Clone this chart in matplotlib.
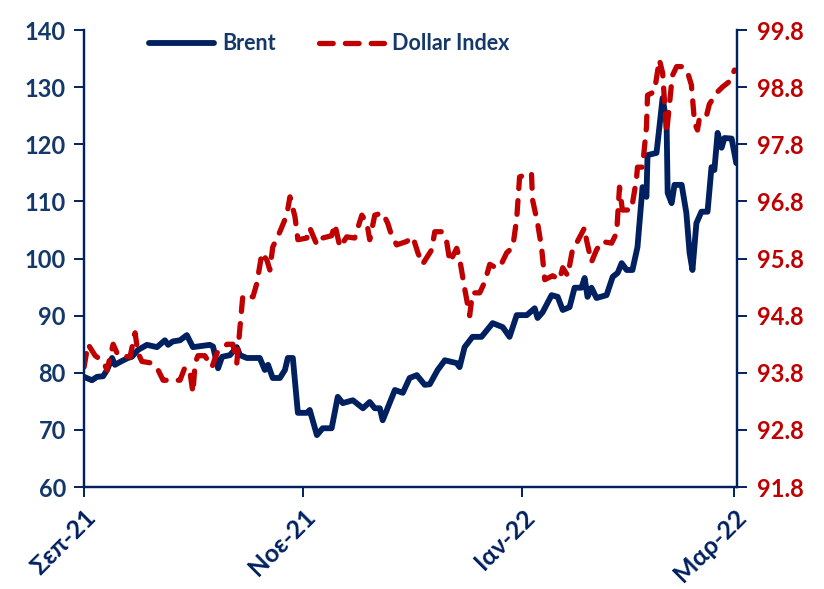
import matplotlib.pyplot as plt

# days since 1 Sep 2021
brent_day = [0, 2.2, 3.6, 5.3, 6.4, 7.8, 8.6, 10, 12.2, 13.3, 15, 17.5, 20.3, 22.5, 23.4, 24.7,
             26.7, 28.6, 30.3, 35, 35.9, 37.3, 38.4, 40.6, 42.5, 43.4, 45.3, 48.9, 50.3, 51.2,
             52.5, 54.5, 55.9, 56.7, 58.1, 59.5, 62, 62.8, 64.8, 66.4, 68.9, 70.6, 72, 74.8,
             77.6, 79.5, 80.9, 82.3, 83.1, 86.5, 88.7, 90.6, 92.6, 94.8, 96.2, 98.4, 100.4,
             103.7, 104.5, 105.9, 108.1, 110.6, 113.7, 116.5, 118.4, 120.4, 123.2, 125.4,
             126.2, 127.6, 130.1, 131.8, 133.2, 135.1, 136.5, 138.4, 139.3, 140.1, 141.2,
             142.6, 145.4, 147.1, 148.5, 149.6, 151, 152.6, 154, 155.4, 156.5, 156.8, 159.3,
             161, 162.1, 162.4, 163.5, 164.3, 166.3, 167.6, 168.5, 169.3, 170.4, 171.8,
             173.5, 174.6, 175.4, 176.3, 177.4, 178.2, 180.2, 181.5]
brent = [79.3, 78.7, 79.3, 79.4, 80.5, 82.6, 81.4, 81.9, 82.6, 82.8, 84.0, 84.9, 84.5, 85.7,
         84.9, 85.5, 85.7, 86.6, 84.5, 84.9, 84.6, 80.8, 82.8, 83.1, 84.5, 83.1, 82.6, 82.6,
         80.5, 81.4, 79.1, 79.1, 80.5, 82.6, 82.6, 73.0, 73.0, 73.5, 69.1, 70.3, 70.3, 75.8,
         74.7, 75.2, 73.8, 74.9, 73.8, 73.8, 71.7, 77.0, 76.5, 79.1, 79.6, 77.9, 78.0, 80.5,
         82.2, 81.7, 81.0, 84.5, 86.3, 86.3, 88.7, 88.0, 86.3, 90.1, 90.1, 91.3, 89.6, 90.6,
         93.6, 93.3, 91.0, 91.5, 94.9, 94.9, 96.6, 93.3, 94.9, 93.1, 93.6, 96.8, 97.5, 99.2,
         98.0, 98.0, 102.0, 112.5, 110.8, 118.1, 118.5, 128.1, 123.7, 111.5, 109.7, 112.9,
         112.9, 108.0, 101.0, 98.0, 106.2, 108.2, 108.2, 116.0, 115.5, 122.0, 119.4, 121.1,
         121.0, 116.7]

dxy_day = [0, 1.1, 3.1, 5.3, 6.4, 8.1, 9.5, 12.8, 14.2, 15, 16.1, 18.9, 20.6, 22, 23.9, 26.7,
           28.1, 29.5, 30.3, 30.9, 31.7, 33.6, 35.6, 37, 39.8, 41.4, 42.5, 43.4, 43.9, 44.2,
           47, 48.1, 49.5, 50.9, 51.7, 52.5, 54.5, 56.4, 57.3, 58.7, 59.5, 62, 62.8, 64.8,
           66.4, 68.9, 69.8, 71.2, 73.1, 75.3, 77.3, 78.7, 79.5, 80.9, 83.1, 84.5, 85.6, 87,
           89.8, 91.5, 92.9, 94.2, 96.7, 97.6, 99.5, 100.9, 101.8, 103.7, 104.5, 105.9, 107.3,
           108.1, 110.1, 111.5, 112.9, 114.3, 115.7, 117.6, 119.3, 120.4, 121.2, 124.5, 124.8,
           126.2, 127.3, 128.2, 130.4, 132.3, 133.2, 134.6, 135.9, 137.3, 139.3, 139.8, 141.2,
           142.6, 144, 146.8, 148.2, 149, 149.8, 152.3, 153.7, 154, 155.4, 156.5, 156.8,
           158.7, 160.1, 161, 162.1, 162.9, 163.7, 164.9, 166.5, 167.9, 169, 169.9, 170.7,
           171.3, 173.2, 174, 176, 177.6, 179.6, 181]
dxy = [93.9, 94.3, 94.1, 94.0, 93.85, 94.3, 94.1, 94.08, 94.5, 94.15, 94.0, 93.97, 93.85,
       93.67, 93.67, 93.67, 93.9, 93.8, 93.45, 93.97, 94.1, 94.1, 93.9, 94.15, 94.3, 94.3,
       93.97, 94.6, 94.95, 95.16, 95.13, 95.37, 95.9, 95.77, 95.6, 96.0, 96.27, 96.56, 96.88,
       96.53, 96.13, 96.16, 96.34, 96.04, 96.16, 96.2, 96.4, 96.0, 96.18, 96.16, 96.56, 96.42,
       96.13, 96.56, 96.6, 96.42, 96.2, 96.04, 96.1, 96.18, 95.9, 95.7, 95.95, 96.27, 96.27,
       96.1, 95.74, 95.98, 95.8, 95.28, 94.8, 95.2, 95.2, 95.39, 95.7, 95.65, 95.65, 95.9,
       96.0, 96.5, 97.23, 97.3, 96.83, 96.42, 96.0, 95.43, 95.5, 95.43, 95.64, 95.5, 95.95,
       96.1, 96.34, 96.13, 95.74, 95.95, 96.1, 96.07, 96.25, 97.05, 96.65, 96.65, 97.18,
       97.4, 97.4, 98.1, 98.66, 98.72, 99.28, 99.05, 98.0, 98.5, 99.0, 99.16, 99.16, 99.07,
       98.84, 98.17, 98.05, 98.28, 98.3, 98.5, 98.7, 98.8, 98.9, 99.1]

tick_days = [0, 61, 122, 181]
tick_labels = ["Σεπ-21", "Νοε-21", "Ιαν-22", "Μαρ-22"]

NAVY = "#002060"
LABEL_NAVY = "#14386A"
RED = "#C00000"
FONT = ["Lato", "DejaVu Sans"]

plt.rcParams["font.family"] = FONT
plt.rcParams["font.weight"] = "bold"

fig = plt.figure(figsize=(8.24, 5.89), dpi=100)
ax = fig.add_axes([0.102, 0.173, 0.792, 0.776])
ax2 = ax.twinx()

ax.plot(brent_day, brent, color=NAVY, linewidth=4.2, solid_joinstyle="round",
        solid_capstyle="round", label="Brent", zorder=3)
ax2.plot(dxy_day, dxy, color=RED, linewidth=3.8, dashes=(2.6, 2.3),
         dash_capstyle="round", label="Dollar Index")

ax.set_xlim(0, 181.6)
ax.set_ylim(60, 140)
ax.set_yticks(range(60, 141, 10))
ax2.set_ylim(91.8, 99.8)
ax2.set_yticks([91.8 + i for i in range(9)])
ax2.set_yticklabels([f"{91.8 + i:.1f}" for i in range(9)])

ax.set_xticks(tick_days)
ax.set_xticklabels(tick_labels, rotation=45, ha="right", rotation_mode="anchor",
                   fontsize=18, fontweight="bold", color=LABEL_NAVY)

for a in (ax, ax2):
    a.spines["top"].set_visible(False)
    for s in ("left", "right", "bottom"):
        a.spines[s].set_color(NAVY)
        a.spines[s].set_linewidth(1.6)

ax.tick_params(axis="y", colors=NAVY, labelsize=17, length=7, width=1.4, pad=6)
ax.tick_params(axis="x", colors=NAVY, length=7, width=1.4, pad=6)
ax2.tick_params(axis="y", colors=NAVY, labelcolor=RED, labelsize=17, length=7,
                width=1.4, pad=8)
for lbl in ax.get_yticklabels():
    lbl.set_color(LABEL_NAVY)

h1, l1 = ax.get_legend_handles_labels()
h2, l2 = ax2.get_legend_handles_labels()
leg = ax2.legend(h1 + h2, l1 + l2, loc="upper left", bbox_to_anchor=(0.07, 1.035),
                 ncol=2, frameon=False, fontsize=15.5, handlelength=3.0,
                 columnspacing=2.0, handletextpad=0.4)
for t in leg.get_texts():
    t.set_color(LABEL_NAVY)

fig.savefig("out.png", dpi=100)
